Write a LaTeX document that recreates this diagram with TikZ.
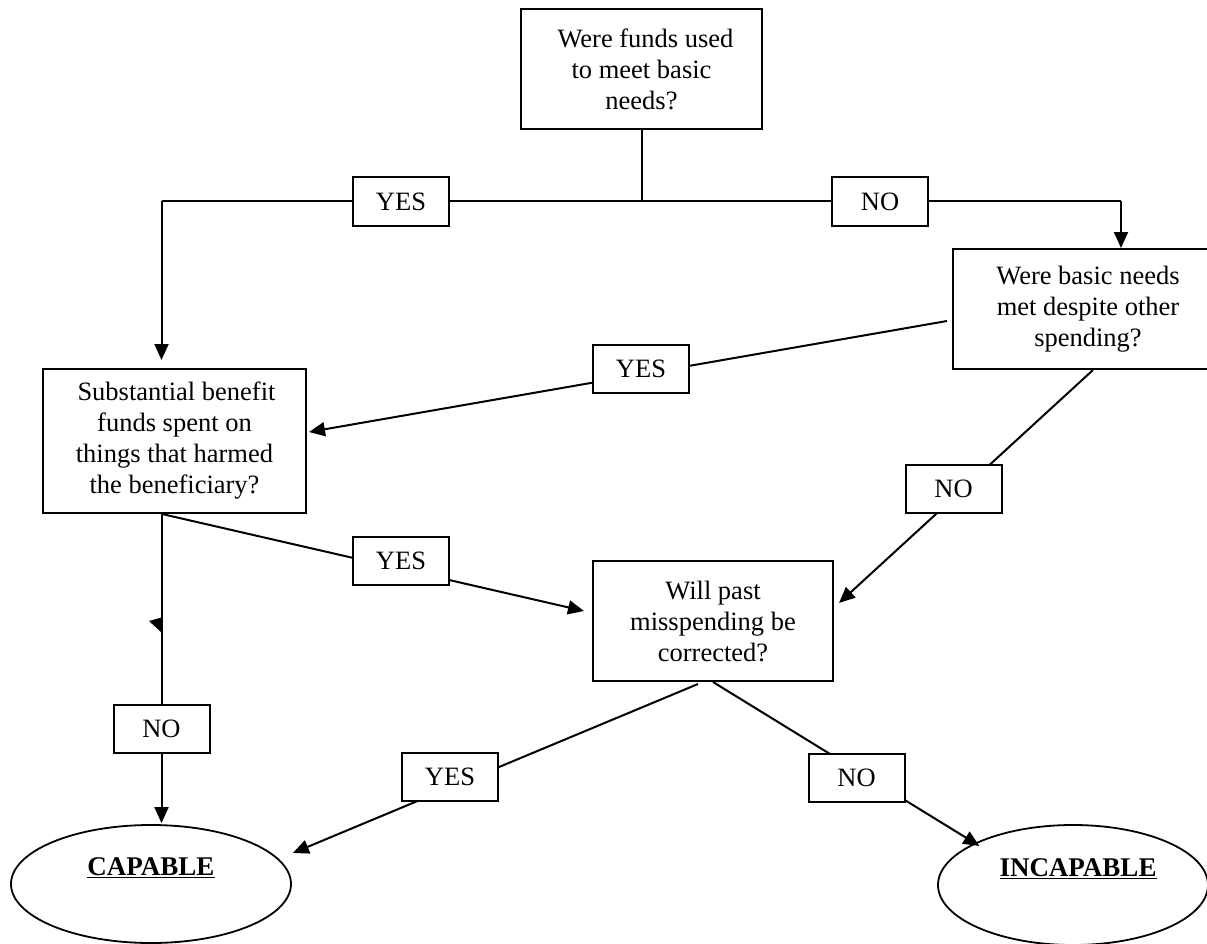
\documentclass[tikz,border=0pt]{standalone}
\usepackage{fontspec}
\setmainfont{Liberation Serif}
\usetikzlibrary{arrows.meta,shapes.geometric,calc}
\begin{document}
\begin{tikzpicture}[x=1pt,y=-1pt,
  ln/.style={line width=2pt},
  arr/.style={-{Triangle[length=16pt,width=14pt]}},
  txt/.style={font=\fontsize{26.5pt}{31pt}\selectfont},
  qbox/.style={txt,draw,line width=2pt,inner sep=0pt,align=center},
  lbl/.style={txt,draw,fill=white,line width=2pt,inner sep=0pt,minimum width=96pt,minimum height=48pt},
  endst/.style={draw,ellipse,line width=1.8pt,inner sep=0pt,font=\fontsize{27pt}{31pt}\selectfont\bfseries}]
\useasboundingbox (0,0) rectangle (1207,944);

% question boxes
\node[qbox,minimum width=241pt,minimum height=120pt] (q1) at (641.5,69) {\hspace*{8pt}Were funds used\\to meet basic\\needs?};
\node[qbox,minimum width=270pt,minimum height=120pt] (q2) at (1088,309) {Were basic needs\\met despite other\\spending?};
\node[qbox,minimum width=263pt,minimum height=144pt] (q3) at (174.5,441) {\hspace*{4pt}Substantial benefit\\funds spent on\\things that harmed\\the beneficiary?};
\node[qbox,minimum width=240pt,minimum height=120pt] (q4) at (713,621) {Will past\\misspending be\\corrected?};

% outcomes
\node[endst,minimum width=280pt,minimum height=118pt] (capable) at (151,884) {\smash{\raisebox{8.5pt}{\underline{CAPABLE}}}};
\node[endst,minimum width=270pt,minimum height=120pt] (incapable) at (1073,885) {\smash{\raisebox{8.5pt}{\hspace*{10pt}\underline{INCAPABLE}}}};

% junction points of the top branch
\coordinate (c1) at (161.5,201.5);
\coordinate (c2) at (1121,201.5);

% connectors
\draw[ln] (q1.south) -- (q1.south |- c1);
\draw[ln] (c1) -- (c2);
\draw[ln,arr] (c1) -- ($(c1 |- q3.north)+(0,-8)$);
\draw[ln,arr] (c2) -- (c2 |- q2.north);
\draw[ln,arr] ($(q2.west)+(-5,12)$) -- ($(q3.east)+(2,-9)$);
\draw[ln,arr] ($(q2.south)+(5,0)$) -- ($(q4.east)+(5,-18)$);
\draw[ln,arr] ($(q3.south)+(-12.5,0)$) -- ($(q4.west)+(-8,-10)$);
\draw[ln,arr] (c1 |- q3.south) -- ($(c1 |- capable.north)+(0,-1)$);
\fill (149,621) -- (163,617) -- (161,632) -- cycle;
\draw[ln,arr] ($(q4.south)+(-15,2)$) -- ($(capable.east)+(1,-31)$);
\draw[ln,arr] (q4.south) -- ($(incapable.north west)+(2.5,4)$);

% answer labels
\node[lbl] (yes1) at (401,201.5) {YES};
\node[lbl] (no1) at (880,201.5) {NO};
\node[lbl] (yes2) at (641,369) {YES};
\node[lbl] (no2) at (953.5,489) {NO};
\node[lbl] (yes3) at (401,561) {YES};
\node[lbl] (no3) at (161.5,729) {NO};
\node[lbl] (yes4) at (450,777) {YES};
\node[lbl] (no4) at (856.5,777.5) {NO};
\end{tikzpicture}
\end{document}
